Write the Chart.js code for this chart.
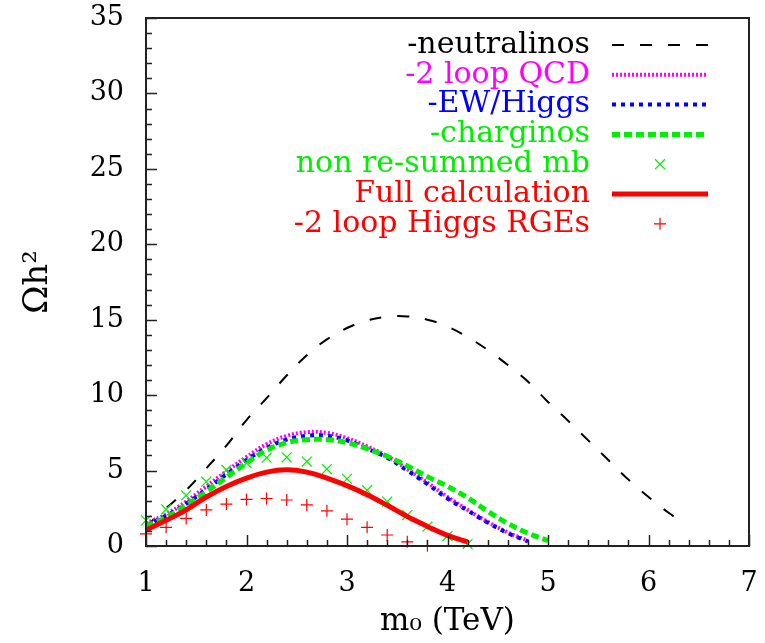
<!DOCTYPE html>
<html>
<head>
<meta charset="utf-8">
<script src="https://cdn.jsdelivr.net/npm/chart.js@4.4.1/dist/chart.umd.min.js"></script>
<style>
html, body { margin: 0; padding: 0; background: #fff; }
</style>
</head>
<body>
<canvas id="myChart" width="765" height="643"></canvas>
<script>
// values
const seriesNames = ['-neutralinos', '-2 loop QCD', '-EW/Higgs', '-charginos',
                     'non re-summed mb', 'Full calculation', '-2 loop Higgs RGEs'];

const m0Neut = [1.0, 1.2, 1.4, 1.6, 1.8, 2.0, 2.2, 2.4, 2.6, 2.8, 3.0, 3.2, 3.4, 3.6,
                3.8, 4.0, 4.2, 4.4, 4.6, 4.8, 5.0, 5.2, 5.4, 5.6, 5.8, 6.0, 6.2, 6.35];
const neutralinos = [1.3, 2.5, 3.7, 5.15, 6.65, 8.35, 9.8, 11.3, 12.65, 13.7, 14.45, 14.95, 15.2, 15.22,
                     15.0, 14.55, 13.85, 13.0, 12.0, 10.9, 9.55, 8.3, 7.0, 5.7, 4.4, 3.25, 2.2, 1.5];

const m0Curve = [1.0, 1.2, 1.4, 1.6, 1.8, 2.0, 2.2, 2.4, 2.6, 2.8, 3.0,
                 3.2, 3.4, 3.6, 3.8, 4.0, 4.2, 4.4, 4.6, 4.8, 5.0];
const loopQCD = [1.5, 2.1, 2.95, 3.95, 4.95, 5.9, 6.75, 7.3, 7.55, 7.5, 7.15,
                 6.6, 5.95, 5.1, 4.2, 3.25, 2.4, 1.6, 0.9, 0.35];
const ewHiggs = [1.4, 2.0, 2.8, 3.75, 4.75, 5.7, 6.5, 7.05, 7.3, 7.3, 7.0,
                 6.45, 5.85, 5.0, 4.1, 3.15, 2.35, 1.55, 0.85, 0.3];
const charginos = [1.3, 1.9, 2.7, 3.6, 4.55, 5.5, 6.35, 6.85, 7.05, 7.05, 6.85,
                   6.45, 5.95, 5.3, 4.6, 3.95, 3.2, 2.3, 1.5, 0.85, 0.35];
const fullCalc = [1.05, 1.7, 2.4, 3.25, 3.95, 4.5, 4.9, 5.05, 4.9, 4.5, 4.0,
                  3.4, 2.7, 1.95, 1.3, 0.7, 0.28];

const m0Marks = [1.0, 1.2, 1.4, 1.6, 1.8, 2.0, 2.2, 2.4, 2.6, 2.8, 3.0, 3.2, 3.4, 3.6, 3.8, 4.0, 4.2];
const nonResummed = [1.7, 2.43, 3.35, 4.26, 5.04, 5.5, 5.85, 5.88, 5.6, 5.1, 4.45, 3.7, 2.94, 2.05, 1.28, 0.66, 0.13];
const higgsRGE = [0.8, 1.24, 1.83, 2.39, 2.78, 3.09, 3.15, 3.05, 2.72, 2.33, 1.78, 1.24, 0.73, 0.28, 0.02];

const xTicks = [1, 2, 3, 4, 5, 6, 7];
const yTicks = [0, 5, 10, 15, 20, 25, 30, 35];

function pts(xs, ys) {
    return ys.map(function(v, i) { return {x: xs[i], y: v}; });
}

const fontFam = "'DejaVu Serif', serif";

// inward ticks, full frame and the right-aligned legend
const framePlugin = {
    id: 'frame',
    afterDatasetsDraw(chart) {
        const ctx = chart.ctx;
        const a = chart.chartArea;
        const xs = chart.scales.x, ys = chart.scales.y;
        ctx.save();
        ctx.strokeStyle = '#222';
        ctx.lineWidth = 1.5;
        ctx.beginPath();
        for (let v = 0; v <= 35; v++) {
            const py = Math.round(ys.getPixelForValue(v)) + 0.5;
            const len = (v % 5 === 0) ? 11 : 6;
            ctx.moveTo(a.left, py);
            ctx.lineTo(a.left + len, py);
        }
        for (let k = 0; k <= 30; k++) {
            const v = 1 + k * 0.2;
            const px = Math.round(xs.getPixelForValue(v)) + 0.5;
            const len = (k % 5 === 0) ? 11 : 6;
            ctx.moveTo(px, a.bottom);
            ctx.lineTo(px, a.bottom - len);
        }
        ctx.stroke();
        ctx.lineWidth = 2;
        ctx.strokeRect(a.left, a.top, a.right - a.left, a.bottom - a.top);

        // legend
        ctx.font = "30px " + fontFam;
        ctx.textAlign = 'right';
        ctx.textBaseline = 'middle';
        chart.data.datasets.forEach(function(ds, i) {
            const y = 45 + i * 29.8;
            ctx.fillStyle = ds.borderColor;
            ctx.fillText(ds.label, 590, y);
            ctx.strokeStyle = ds.borderColor;
            ctx.lineWidth = ds.borderWidth;
            if (ds.showLine === false) {
                Chart.helpers.drawPoint(ctx, {pointStyle: ds.pointStyle, radius: ds.pointRadius, borderWidth: ds.borderWidth}, 660, y);
            } else {
                ctx.setLineDash(ds.borderDash || []);
                ctx.beginPath();
                ctx.moveTo(612, y);
                ctx.lineTo(708, y);
                ctx.stroke();
                ctx.setLineDash([]);
            }
        });
        ctx.restore();
    }
};

const ctx = document.getElementById('myChart').getContext('2d');
const chart = new Chart(ctx, {
    type: 'scatter',
    data: {
        datasets: [{
            label: seriesNames[0],
            data: pts(m0Neut, neutralinos),
            showLine: true,
            borderColor: '#000000',
            borderWidth: 2,
            borderDash: [12, 16],
            pointRadius: 0,
            tension: 0.4,
            order: 6
        }, {
            label: seriesNames[1],
            data: pts(m0Curve, loopQCD),
            showLine: true,
            borderColor: '#ff00ff',
            borderWidth: 4,
            borderDash: [2, 2],
            pointRadius: 0,
            tension: 0.4,
            order: 5
        }, {
            label: seriesNames[2],
            data: pts(m0Curve, ewHiggs),
            showLine: true,
            borderColor: '#0000ff',
            borderWidth: 4,
            borderDash: [4, 5],
            pointRadius: 0,
            tension: 0.4,
            order: 4
        }, {
            label: seriesNames[3],
            data: pts(m0Curve, charginos),
            showLine: true,
            borderColor: '#00ee00',
            borderWidth: 5,
            borderDash: [8, 4],
            pointRadius: 0,
            tension: 0.4,
            order: 3
        }, {
            label: seriesNames[4],
            data: pts(m0Marks, nonResummed),
            showLine: false,
            borderColor: '#00ee00',
            backgroundColor: '#00ee00',
            borderWidth: 1.2,
            pointStyle: 'crossRot',
            pointRadius: 7,
            clip: false,
            order: 2
        }, {
            label: seriesNames[5],
            data: pts(m0Curve, fullCalc),
            showLine: true,
            borderColor: '#ff0000',
            borderWidth: 5,
            pointRadius: 0,
            tension: 0.4,
            order: 0
        }, {
            label: seriesNames[6],
            data: pts(m0Marks, higgsRGE),
            showLine: false,
            borderColor: '#ff0000',
            backgroundColor: '#ff0000',
            borderWidth: 1.2,
            pointStyle: 'cross',
            pointRadius: 6,
            clip: false,
            order: 1
        }]
    },
    options: {
        responsive: false,
        animation: false,
        layout: { padding: { left: 0, top: 18, right: 16, bottom: 0 } },
        plugins: {
            legend: { display: false },
            tooltip: { enabled: false }
        },
        scales: {
            x: {
                type: 'linear',
                min: 1,
                max: 7,
                afterBuildTicks: function(scale) {
                    scale.ticks = xTicks.map(function(v) { return {value: v}; });
                },
                afterFit: function(scale) {
                    scale.height = 97;
                    scale.paddingLeft = 0;
                    scale.paddingRight = 0;
                },
                grid: { display: false },
                border: { display: false },
                ticks: {
                    color: '#000',
                    padding: 14,
                    font: { family: fontFam, size: 27 }
                },
                title: {
                    display: true,
                    text: 'm\u2080 (TeV)',
                    color: '#000',
                    padding: { top: 0, bottom: 2 },
                    font: { family: fontFam, size: 31 }
                }
            },
            y: {
                min: 0,
                max: 35,
                afterBuildTicks: function(scale) {
                    scale.ticks = yTicks.map(function(v) { return {value: v}; });
                },
                afterFit: function(scale) {
                    scale.width = 146;
                    scale.paddingTop = 0;
                    scale.paddingBottom = 0;
                },
                grid: { display: false },
                border: { display: false },
                ticks: {
                    color: '#000',
                    padding: 14,
                    font: { family: fontFam, size: 27 }
                },
                title: {
                    display: true,
                    text: '\u03A9h\u00B2',
                    color: '#000',
                    padding: { top: 18, bottom: 0 },
                    font: { family: fontFam, size: 34 }
                }
            }
        }
    },
    plugins: [framePlugin]
});
</script>
</body>
</html>
